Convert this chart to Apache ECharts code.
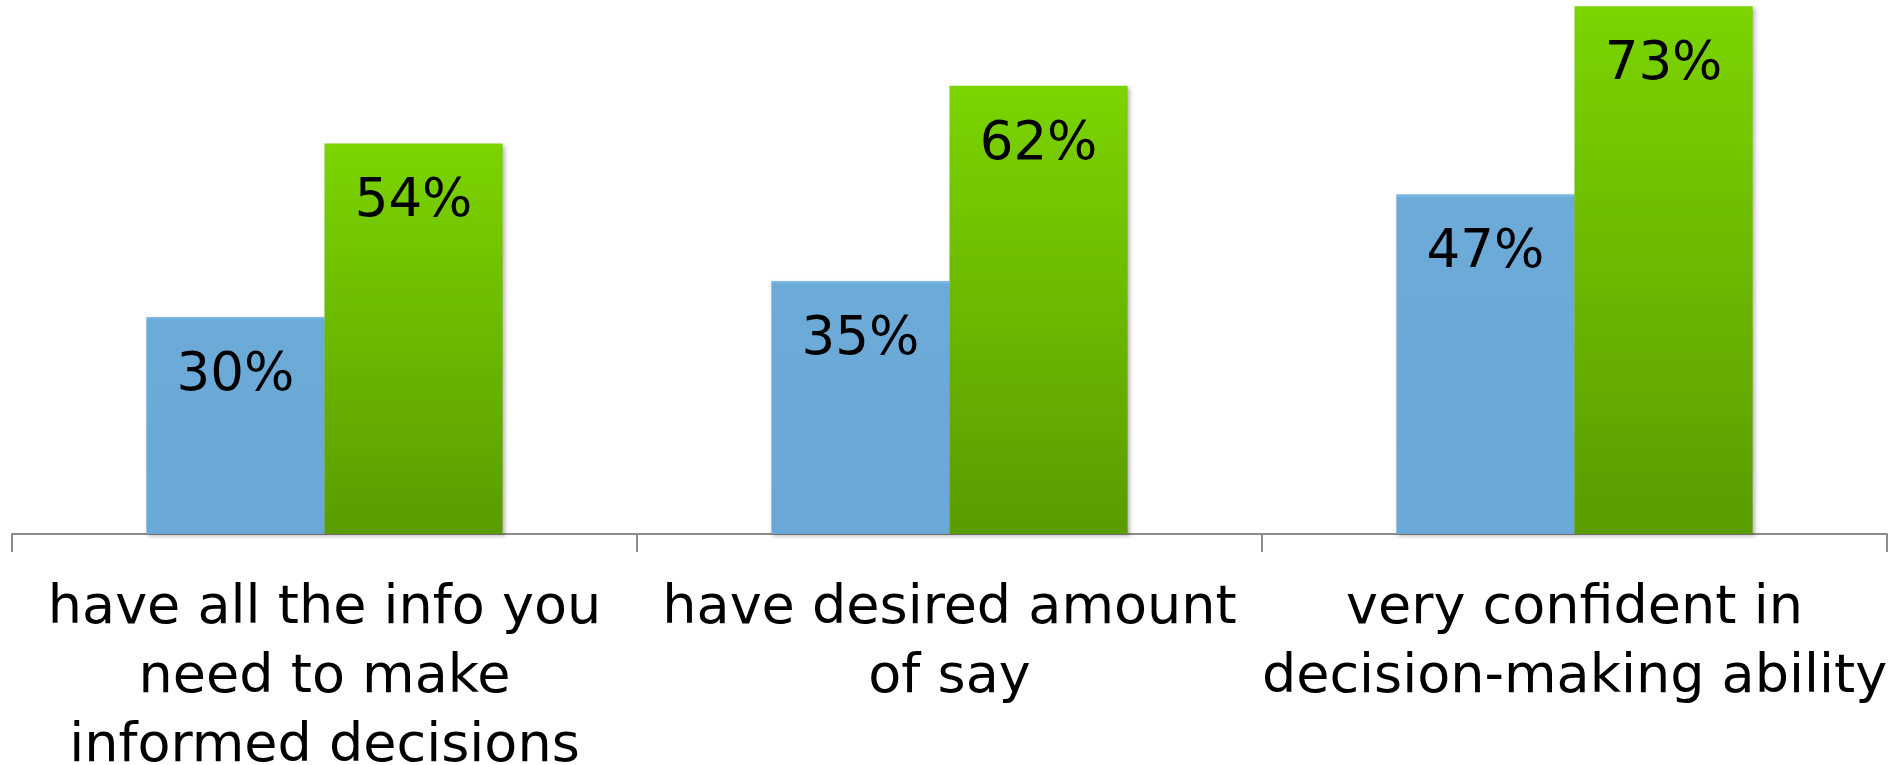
<!DOCTYPE html>
<html>
<head>
<meta charset="utf-8">
<script src="https://cdn.jsdelivr.net/npm/echarts@6/dist/echarts.min.js"></script>
<style>
  html, body { margin: 0; padding: 0; background: #ffffff; }
  #chart { width: 1889px; height: 765px; }
</style>
</head>
<body>
<div id="chart"></div>
<script>
// Survey categories (line breaks as they wrap under each group)
const categories = [
  'have all the info you\nneed to make\ninformed decisions',
  'have desired amount\nof say',
  'very confident in\ndecision-making ability'
];
// Percentages for the two groups
const blueValues = [30, 35, 47];
const greenValues = [54, 62, 73];

const FONT = '"DejaVu Sans", sans-serif';

const chart = echarts.init(document.getElementById('chart'), null, { renderer: 'canvas' });

const labelStyle = {
  show: true,
  position: 'insideTop',
  distance: 29,
  formatter: '{c}%',
  color: '#000000',
  fontFamily: FONT,
  fontSize: 53,
  lineHeight: 60
};

const barShadow = {
  shadowColor: 'rgba(0,0,0,0.28)',
  shadowBlur: 4,
  shadowOffsetX: 2,
  shadowOffsetY: 2
};

chart.setOption({
  animation: false,
  backgroundColor: '#ffffff',
  grid: {
    left: 12, right: 2, top: -1, bottom: 231,
    containLabel: false,
    outerBoundsMode: 'none'
  },
  xAxis: {
    type: 'category',
    data: categories,
    axisLine: { show: true, lineStyle: { color: '#8c8c8c', width: 2 } },
    axisTick: { show: true, length: 18, lineStyle: { color: '#8c8c8c', width: 2 } },
    axisLabel: {
      interval: 0,
      margin: 40,
      color: '#000000',
      fontFamily: FONT,
      fontSize: 54,
      lineHeight: 69,
      align: 'center'
    }
  },
  yAxis: {
    type: 'value',
    min: 0,
    max: 74,
    show: false,
    splitLine: { show: false }
  },
  series: [
    {
      name: 'blue',
      type: 'bar',
      data: blueValues,
      barGap: '0%',
      barCategoryGap: '43%',
      itemStyle: Object.assign({
        color: new echarts.graphic.LinearGradient(0, 0, 0, 1, [
          { offset: 0, color: '#7fbde9' },
          { offset: 0.012, color: '#6caad8' },
          { offset: 1, color: '#6aa9d7' }
        ])
      }, barShadow),
      label: labelStyle,
      z: 2
    },
    {
      name: 'green',
      type: 'bar',
      data: greenValues,
      barGap: '0%',
      barCategoryGap: '43%',
      itemStyle: Object.assign({
        color: new echarts.graphic.LinearGradient(0, 0, 0, 1, [
          { offset: 0, color: '#7bd400' },
          { offset: 1, color: '#5a9c00' }
        ])
      }, barShadow),
      label: labelStyle,
      z: 3
    }
  ]
});
</script>
</body>
</html>
